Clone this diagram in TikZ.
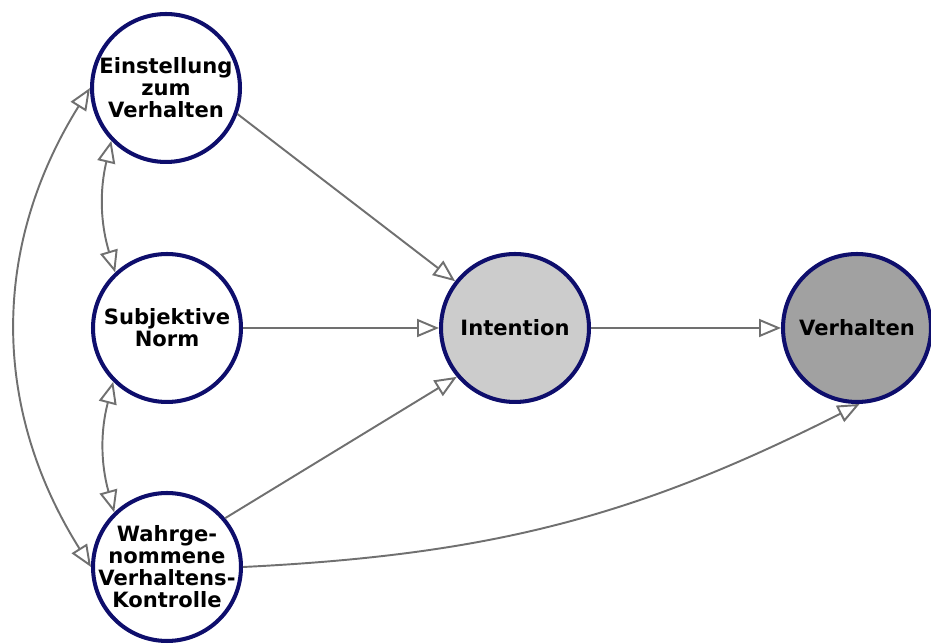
\documentclass[tikz,border=0pt]{standalone}
\usepackage{fontspec}
\setmainfont{DejaVu Sans}
\usetikzlibrary{arrows.meta}
\definecolor{rimblue}{RGB}{14,14,108}
\definecolor{linkgray}{RGB}{112,112,112}

\begin{document}
\begin{tikzpicture}[
  x=0.02cm,y=-0.02cm,
  factor/.style={circle,draw=rimblue,line width=2.3pt,fill=white,minimum size=2.96cm,
    inner sep=0pt,align=center,font=\bfseries\fontsize{12}{12.5}\selectfont},
  link/.style={draw=linkgray,line width=1.1pt,-{Triangle[open,length=0.44cm,width=0.36cm]}},
  both/.style={link,{Triangle[open,length=0.44cm,width=0.36cm]}-{Triangle[open,length=0.44cm,width=0.36cm]}},
]
\useasboundingbox (0,0) rectangle (931,644);
\node[factor] (ein) at (166,88) {Einstellung\\zum\\Verhalten};
\node[factor] (norm) at (167,328) {Subjektive\\Norm};
\node[factor,inner sep=-0.35cm] (wahr) at (167,567) {Wahrge-\\nommene\\Verhaltens-\\Kontrolle};
\node[factor,fill=black!20] (int) at (515,328) {Intention};
\node[factor,fill=black!37] (verh) at (857,328) {Verhalten};
% paths into the intention
\draw[link] (ein.-20) -- (int.142);
\draw[link] (norm) -- (int);
\draw[link] (wahr.40) -- (int.220);
% paths into the behaviour
\draw[link] (int) -- (verh);
\draw[link] (wahr.east) to[bend right=12] (verh.-88);
% correlations
\draw[both] (ein.224) to[bend right=15] (norm.133);
\draw[both] (norm.225) to[bend right=15] (wahr.134);
\draw[both] (ein.west) to[bend right=32] (wahr.west);
\end{tikzpicture}
\end{document}
